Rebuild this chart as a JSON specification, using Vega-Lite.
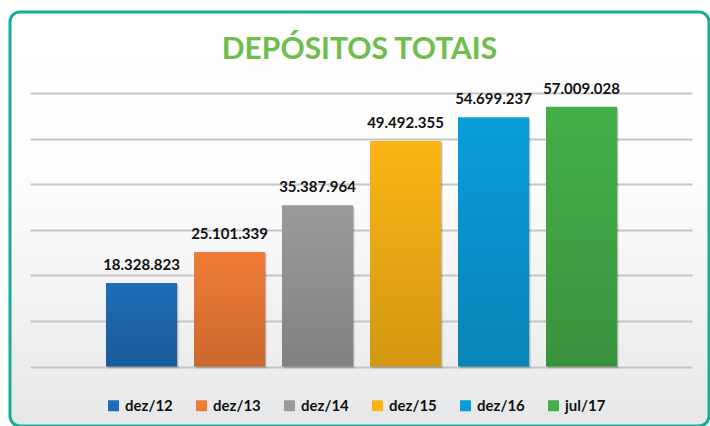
{
  "$schema": "https://vega.github.io/schema/vega-lite/v6.json",
  "autosize": {"type": "none"},
  "width": 699,
  "height": 414,
  "padding": {"left": 10, "top": 12, "right": 1, "bottom": 0},
  "background": "#FFFFFF",
  "title": {
    "text": "DEPÓSITOS TOTAIS",
    "anchor": "middle",
    "frame": "group",
    "font": "Lato",
    "fontSize": 30,
    "fontWeight": "bold",
    "color": "#6DBE4B",
    "baseline": "alphabetic",
    "offset": -77
  },
  "data": {
    "values": [
      {"periodo": "dez/12", "valor": 18328823},
      {"periodo": "dez/13", "valor": 25101339},
      {"periodo": "dez/14", "valor": 35387964},
      {"periodo": "dez/15", "valor": 49492355},
      {"periodo": "dez/16", "valor": 54699237},
      {"periodo": "jul/17", "valor": 57009028}
    ]
  },
  "encoding": {
    "x": {
      "field": "periodo",
      "type": "nominal",
      "sort": null,
      "scale": {"paddingInner": 0.1932, "paddingOuter": 1, "range": [8, 695]},
      "axis": null
    },
    "y": {
      "field": "valor",
      "type": "quantitative",
      "scale": {"domain": [-13053000, 77770000], "nice": false, "zero": false},
      "axis": {
        "orient": "left",
        "offset": -20,
        "tickSize": -662,
        "tickColor": "#C6C6C6",
        "tickWidth": 2,
        "values": [0, 10000000, 20000000, 30000000, 40000000, 50000000, 60000000],
        "labels": false,
        "domain": false,
        "grid": false,
        "title": null
      }
    }
  },
  "layer": [
    {
      "mark": {"type": "bar", "color": "#000000", "opacity": 0.1, "xOffset": 2, "x2Offset": 7, "yOffset": 2, "y2Offset": 6},
      "encoding": {}
    },
    {
      "mark": {"type": "bar", "color": "#000000", "opacity": 0.16, "xOffset": 1, "x2Offset": 4, "yOffset": 1, "y2Offset": 4},
      "encoding": {}
    },
    {
      "mark": {"type": "bar"},
      "encoding": {
        "color": {
          "field": "periodo",
          "type": "nominal",
          "sort": null,
          "scale": {
            "domain": ["dez/12", "dez/13", "dez/14", "dez/15", "dez/16", "jul/17"],
            "range": ["#1E6DB6", "#F07C36", "#9A9A9D", "#FBB414", "#099DDA", "#44AF49"]
          },
          "legend": {
            "orient": "none",
            "legendX": 96,
            "legendY": 386,
            "direction": "horizontal",
            "columns": 6,
            "gridAlign": "all",
            "columnPadding": 21,
            "padding": 0,
            "title": null,
            "symbolType": "square",
            "symbolSize": 121,
            "symbolStrokeWidth": 0,
            "symbolOpacity": 1,
            "labelFont": "Lato",
            "labelFontSize": 15,
            "labelFontWeight": "bold",
            "labelColor": "#111111",
            "labelOffset": 4
          }
        }
      }
    },
    {
      "mark": {
        "type": "bar",
        "color": {"gradient": "linear", "x1": 0, "y1": 0, "x2": 0, "y2": 1, "stops": [{"offset": 0, "color": "rgba(0,0,0,0)"}, {"offset": 1, "color": "rgba(0,0,0,0.16)"}]}
      },
      "encoding": {}
    },
    {
      "mark": {
        "type": "text",
        "font": "Lato",
        "fontSize": 15,
        "fontWeight": "bold",
        "color": "#111111",
        "baseline": "alphabetic",
        "dy": -13
      },
      "encoding": {
        "text": {"field": "valor", "type": "quantitative", "format": ",d"}
      }
    }
  ],
  "config": {
    "locale": {"number": {"decimal": ",", "thousands": ".", "grouping": [3], "currency": ["R$", ""]}},
    "view": {
      "stroke": "#12AE98",
      "strokeWidth": 3,
      "cornerRadius": 10,
      "fill": {"gradient": "linear", "x1": 0, "y1": 0, "x2": 0, "y2": 1, "stops": [{"offset": 0, "color": "#FFFFFF"}, {"offset": 0.4, "color": "#FDFDFD"}, {"offset": 1, "color": "#E6E7E8"}]}
    }
  }
}
